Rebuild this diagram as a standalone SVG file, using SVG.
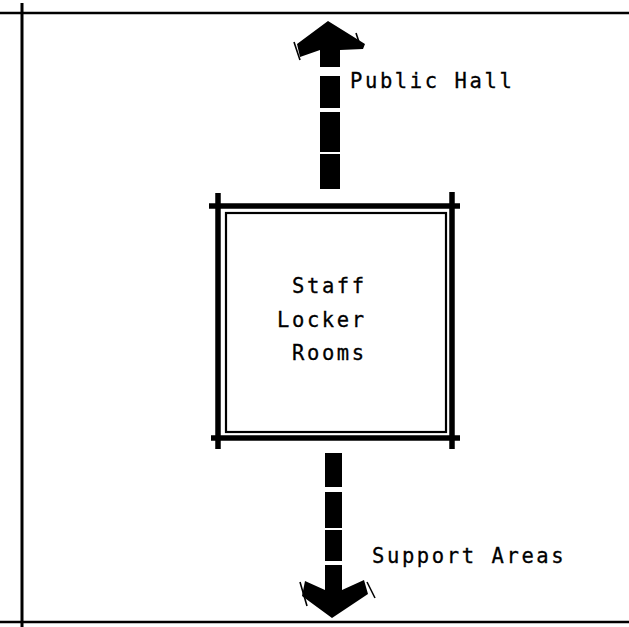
<svg xmlns="http://www.w3.org/2000/svg" width="629" height="627" viewBox="0 0 629 627">
<style>
.border{stroke:#000;stroke-width:2.5;fill:none}
.thick{stroke:#000;stroke-width:5.5;fill:none;stroke-linecap:butt}
.thin{stroke:#000;stroke-width:2.2;fill:none}
.tick{stroke:#000;stroke-width:1.6;fill:none}
.seg{fill:#000}
.lbl{font-family:"DejaVu Sans Mono","Liberation Mono",monospace;font-size:20.5px;letter-spacing:2.6px;fill:#000;stroke:#000;stroke-width:0.3}
</style>
<rect width="629" height="627" fill="#fff"/>
<g id="frame">
<line class="border" x1="0" y1="13" x2="629" y2="13"/>
<line class="border" x1="22" y1="3" x2="22" y2="627" style="stroke-width:3"/>
<line class="border" x1="0" y1="622" x2="629" y2="622"/>
</g>
<g id="staff-locker-rooms">
<line class="thick" x1="209" y1="206" x2="460" y2="206"/>
<line class="thick" x1="211" y1="438" x2="460" y2="438"/>
<line class="thick" x1="218" y1="193" x2="218" y2="449"/>
<line class="thick" x1="452" y1="192" x2="452" y2="449"/>
<rect class="thin" x="226" y="213" width="220" height="219"/>
<text class="lbl" x="292" y="293">Staff</text>
<text class="lbl" x="277" y="327">Locker</text>
<text class="lbl" x="292" y="360">Rooms</text>
</g>
<g id="public-hall">
<text class="lbl" x="350" y="88">Public Hall</text>
</g>
<g id="support-areas">
<text class="lbl" x="372" y="563">Support Areas</text>
</g>
<g id="connectors">
<g id="arrow-up">
<polygon class="seg" points="328,21 365,44 363,49 340,50 340,67 320,67 320,50 300,57 297,44"/>
<line class="tick" x1="294" y1="42" x2="300" y2="60"/>
<line class="tick" x1="356" y1="33" x2="361" y2="48"/>
<rect class="seg" x="320" y="76" width="20" height="32"/>
<rect class="seg" x="320" y="112" width="20" height="40"/>
<rect class="seg" x="320" y="154" width="20" height="35"/>
</g>
<g id="arrow-down">
<rect class="seg" x="325" y="453" width="17" height="34"/>
<rect class="seg" x="325" y="492" width="17" height="36"/>
<rect class="seg" x="325" y="530" width="17" height="31"/>
<polygon class="seg" points="325,565 342,565 342,590 364,580 368,594 332,618 302,596 305,581 325,590"/>
<line class="tick" x1="300" y1="582" x2="307" y2="606"/>
<line class="tick" x1="367" y1="582" x2="375" y2="598"/>
</g>
</g>
</svg>
